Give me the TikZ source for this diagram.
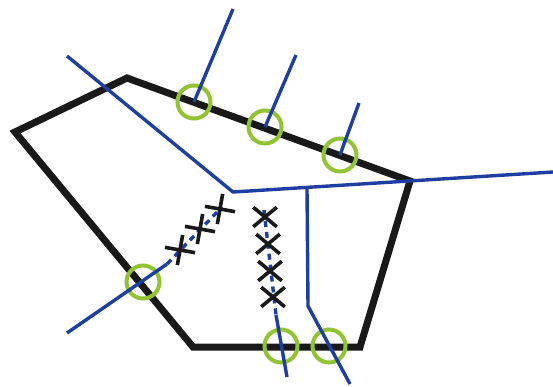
\documentclass[tikz,border=0pt]{standalone}
\usetikzlibrary{shapes.misc}
\definecolor{lineblue}{RGB}{30,62,160}
\definecolor{ringgreen}{RGB}{145,195,50}
\definecolor{polyblack}{RGB}{25,25,25}
\begin{document}
\begin{tikzpicture}[x=1pt,y=-1pt,
  poly/.style={draw=polyblack,line width=7pt,miter limit=10},
  ring/.style={circle,draw=ringgreen,line width=4pt,minimum size=33pt,inner sep=0pt},
  blueline/.style={draw=lineblue,line width=3.4pt},
  bluedash/.style={draw=lineblue,line width=3.4pt,dash pattern=on 6pt off 5pt},
  xmark/.style={cross out,draw=polyblack,line width=3.6pt,minimum width=20pt,minimum height=16pt,inner sep=0pt},
  pmark/.style={cross out,draw=polyblack,line width=3.6pt,minimum size=18pt,inner sep=0pt,rotate=35}]
\useasboundingbox[fill=white] (0,0) rectangle (553,386);
% polygon
\coordinate (p1) at (127,78);
\coordinate (p2) at (15,132);
\coordinate (p3) at (193,347);
\coordinate (p4) at (360,347);
\coordinate (p5) at (410,181);
\draw[poly] (p1) -- (p2) -- (p3) -- (p4) -- (p5) -- cycle;
% rings
\node[ring] (c1) at (194,102) {};
\node[ring] (c2) at (265,127) {};
\node[ring] (c3) at (340,155) {};
\node[ring] (c4) at (143,282) {};
\node[ring] (c5) at (281,346) {};
\node[ring] (c6) at (329,346) {};
% blue lines
\coordinate (s1) at (233,9);
\coordinate (s2) at (296,55);
\coordinate (s3) at (359,103);
\draw[blueline] (s1) -- (c1.center);
\draw[blueline] (s2) -- (c2.center);
\draw[blueline] (s3) -- (c3.center);
\coordinate (b1) at (67,56);
\coordinate (b2) at (233,192);
\coordinate (b3) at (553,172);
\draw[blueline] (b1) -- (b2) -- (b3);
\coordinate (v1) at (307,189);
\coordinate (v2) at (308,306);
\coordinate (v3) at (350,384);
\draw[blueline] (v1) -- (v2) -- (v3);
\coordinate (l1) at (67,333);
\coordinate (l2) at (167,264);
\coordinate (l3) at (222,207);
\draw[blueline] (l1) -- (l2);
\draw[bluedash] (l2) -- (l3);
\coordinate (m0) at (264,210);
\coordinate (m1) at (276,315);
\coordinate (m2) at (287,377);
\draw[blueline] (m1) -- (m2);
\draw[bluedash] (m0) -- (m1);
% x marks
\node[pmark] (d1) at (180,250) {};
\node[pmark] (d2) at (200,229) {};
\node[pmark] (d3) at (220,209) {};
\node[xmark] (e1) at (265,217) {};
\node[xmark] (e2) at (268,244) {};
\node[xmark] (e3) at (270,271) {};
\node[xmark] (e4) at (273,297) {};
\end{tikzpicture}
\end{document}
